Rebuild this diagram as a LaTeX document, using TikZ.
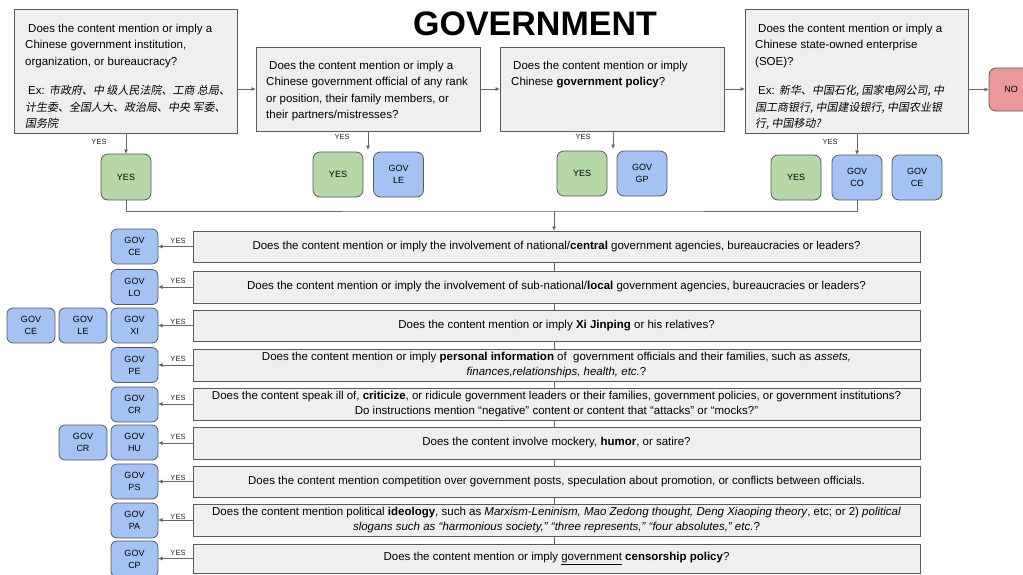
\documentclass[tikz,border=0pt]{standalone}
\usepackage{fontspec}
\setmainfont{Liberation Sans}
\newfontfamily\cjkit[FakeSlant=0.18]{Noto Sans CJK SC}
\usetikzlibrary{arrows.meta,calc}
\definecolor{qfill}{HTML}{EFEFEF}
\definecolor{qline}{HTML}{595959}
\definecolor{yesgreen}{HTML}{B6D7A8}
\definecolor{govblue}{HTML}{A4C2F4}
\definecolor{nored}{HTML}{EA9999}
\definecolor{arrgray}{HTML}{666666}
\newcommand\zh[1]{{\cjkit\fontsize{11}{16.3}\selectfont #1}}
\tikzset{
  qbox/.style={draw=qline, fill=qfill, line width=0.8pt, inner sep=0pt, outer sep=0pt},
  rowbox/.style={qbox, minimum width=727pt, align=center, font=\fontsize{11.5}{14.5}\selectfont},
  qtext/.style={anchor=north west, inner sep=0pt, align=left, font=\fontsize{11.5}{16.3}\selectfont},
  rbox/.style={draw=qline, line width=0.8pt, rounded corners=7pt, inner sep=0pt, outer sep=0pt,
    align=center, font=\fontsize{9}{12}\selectfont, minimum width=50pt, minimum height=45pt},
  greenbox/.style={rbox, fill=yesgreen},
  bluebox/.style={rbox, fill=govblue},
  redbox/.style={rbox, fill=nored},
  sidebox/.style={bluebox, minimum width=47pt, minimum height=35pt, rounded corners=6pt},
  lab/.style={inner sep=0pt, font=\fontsize{7.5}{8}\selectfont, text=black!85},
  arr/.style={draw=arrgray, line width=0.8pt, -{Latex[length=4.5pt,width=4pt]}},
  link/.style={draw=arrgray, line width=0.8pt}
}
\begin{document}
\begin{tikzpicture}[x=1pt,y=-1pt]
\useasboundingbox (0,0) rectangle (1023,574);
\fill[white] (0,0) rectangle (1023,574);

% title
\node[font=\fontsize{34}{34}\selectfont\bfseries, inner sep=0pt] (title) at (535,24) {GOVERNMENT};

% top question boxes
\node[qbox, minimum width=223pt, minimum height=124pt] (q1) at (125.5,71) {};
\node[qbox, minimum width=224pt, minimum height=84pt] (q2) at (368,89) {};
\node[qbox, minimum width=224pt, minimum height=84pt] (q3) at (612,89) {};
\node[qbox, minimum width=223pt, minimum height=124pt] (q4) at (856.5,71) {};
\node[redbox, minimum width=44pt, minimum height=43pt] (no) at (1011,89.5) {NO};

\node[qtext] (q1t) at ([xshift=11pt,yshift=-15pt]q1.north west)
 {\hspace{3pt}Does the content mention or imply a\\
  Chinese government institution,\\
  organization, or bureaucracy?\\[13.5pt]
  \hspace{3pt}Ex: \zh{市政府、中 级人民法院、工商 总局、}\\
  \zh{计生委、全国人大、政治局、中央 军委、}\\
  \zh{国务院}};
\node[qtext] (q2t) at ([xshift=10pt,yshift=-14pt]q2.north west)
 {\hspace{3pt}Does the content mention or imply a\\
  Chinese government official of any rank\\
  or position, their family members, or\\
  their partners/mistresses?};
\node[qtext] (q3t) at ([xshift=11pt,yshift=-14pt]q3.north west)
 {\hspace{2pt}Does the content mention or imply\\
  Chinese \textbf{government policy}?};
\node[qtext] (q4t) at ([xshift=10pt,yshift=-15pt]q4.north west)
 {\hspace{3pt}Does the content mention or imply a\\
  Chinese state-owned enterprise\\
  (SOE)?\\[13.5pt]
  \hspace{3pt}Ex: \zh{新华、中国石化, 国家电网公司, 中}\\
  \zh{国工商银行, 中国建设银行, 中国农业银}\\
  \zh{行, 中国移动?}};

\draw[arr] (q1.east |- q2.west) -- (q2.west);
\draw[arr] (q2.east) -- (q3.west);
\draw[arr] (q3.east) -- (q3.east -| q4.west);
\draw[arr] (q4.east |- no.west) -- (no.west);

% children of top boxes
\node[greenbox, minimum height=46pt] (y1) at (126,177) {YES};
\node[greenbox] (y2) at (338,174.5) {YES};
\node[bluebox] (le2) at (398.5,174.5) {GOV\\LE};
\node[greenbox] (y3) at (582,173.5) {YES};
\node[bluebox] (gp3) at (642,173.5) {GOV\\GP};
\node[greenbox] (y4) at (796,177.5) {YES};
\node[bluebox] (co4) at (857,177.5) {GOV\\CO};
\node[bluebox] (ce4) at (917,177.5) {GOV\\CE};

\coordinate (a2) at (368,150);
\coordinate (a3) at (613,149);
\draw[arr] (q1.south -| y1.north) -- (y1.north);
\draw[arr] (q2.south -| a2) -- (a2);
\draw[arr] (q3.south -| a3) -- (a3);
\draw[arr] (q4.south -| co4.north) -- (co4.north);
\node[lab] (l1) at (99,142) {YES};
\node[lab] (l2) at (342,137) {YES};
\node[lab] (l3) at (583,137) {YES};
\node[lab] (l4) at (830,142) {YES};

% row question boxes
\node[rowbox, minimum height=31pt] (r1) at (556.5,246.5)
 {Does the content mention or imply the involvement of national/\textbf{central} government agencies, bureaucracies or leaders?};
\node[rowbox, minimum height=32pt] (r2) at (556.5,287)
 {Does the content mention or imply the involvement of sub-national/\textbf{local} government agencies, bureaucracies or leaders?};
\node[rowbox, minimum height=31pt] (r3) at (556.5,325.5)
 {Does the content mention or imply \textbf{Xi Jinping} or his relatives?};
\node[rowbox, minimum height=32pt] (r4) at (556.5,365)
 {Does the content mention or imply \textbf{personal information} of\ \ government officials and their families, such as \textit{assets,}\\
  \textit{finances,relationships, health, etc.}?};
\node[rowbox, minimum height=32pt] (r5) at (556.5,404)
 {Does the content speak ill of, \textbf{criticize}, or ridicule government leaders or their families, government policies, or government institutions?\\
  Do instructions mention “negative” content or content that “attacks” or “mocks?”};
\node[rowbox, minimum height=32pt] (r6) at (556.5,443)
 {Does the content involve mockery, \textbf{humor}, or satire?};
\node[rowbox, minimum height=31pt] (r7) at (556.5,481.5)
 {Does the content mention competition over government posts, speculation about promotion, or conflicts between officials.};
\node[rowbox, minimum height=32pt] (r8) at (556.5,520)
 {Does the content mention political \textbf{ideology}, such as \textit{Marxism-Leninism, Mao Zedong thought, Deng Xiaoping theory}, etc; or 2) \textit{political}\\
  \textit{slogans such as “harmonious society,” “three represents,” “four absolutes,” etc.}?};
\node[rowbox, minimum height=29pt] (r9) at (556.5,558.5)
 {Does the content mention or imply \underline{government} \textbf{censorship policy}?};

% junction and links
\coordinate (junc) at (554,211);
\draw[link] (y1.south) |- (junc) -| (co4.south);
\draw[arr] (junc) -- (junc |- r1.north);
\foreach \a/\b in {r1/r2,r2/r3,r3/r4,r4/r5,r5/r6,r6/r7,r7/r8,r8/r9}
  \draw[link] (\a.south -| junc) -- (\b.north -| junc);

% side boxes
\node[sidebox] (g1) at (134.5,246.5) {GOV\\CE};
\node[sidebox] (g2) at (134.5,287) {GOV\\LO};
\node[sidebox] (g3) at (134.5,325.5) {GOV\\XI};
\node[sidebox, minimum width=48pt] (g3b) at (31,325.5) {GOV\\CE};
\node[sidebox, minimum width=48pt] (g3c) at (83,325.5) {GOV\\LE};
\node[sidebox] (g4) at (134.5,365) {GOV\\PE};
\node[sidebox] (g5) at (134.5,404.5) {GOV\\CR};
\node[sidebox] (g6) at (134.5,442.5) {GOV\\HU};
\node[sidebox, minimum width=48pt] (g6b) at (83,442.5) {GOV\\CR};
\node[sidebox] (g7) at (134.5,481.5) {GOV\\PS};
\node[sidebox] (g8) at (134.5,520.5) {GOV\\PA};
\node[sidebox, minimum height=36pt] (g9) at (134.5,559) {GOV\\CP};

\foreach \r/\g in {r1/g1,r2/g2,r3/g3,r4/g4,r5/g5,r6/g6,r7/g7,r8/g8,r9/g9}
  \draw[arr] (\r.west) -- (\r.west -| \g.east);

\node[lab] (s1) at (178,240.5) {YES};
\node[lab] (s2) at (178,281) {YES};
\node[lab] (s3) at (178,322) {YES};
\node[lab] (s4) at (178,359) {YES};
\node[lab] (s5) at (178,398) {YES};
\node[lab] (s6) at (178,437) {YES};
\node[lab] (s7) at (178,478) {YES};
\node[lab] (s8) at (178,516.5) {YES};
\node[lab] (s9) at (178,553) {YES};
\end{tikzpicture}
\end{document}
